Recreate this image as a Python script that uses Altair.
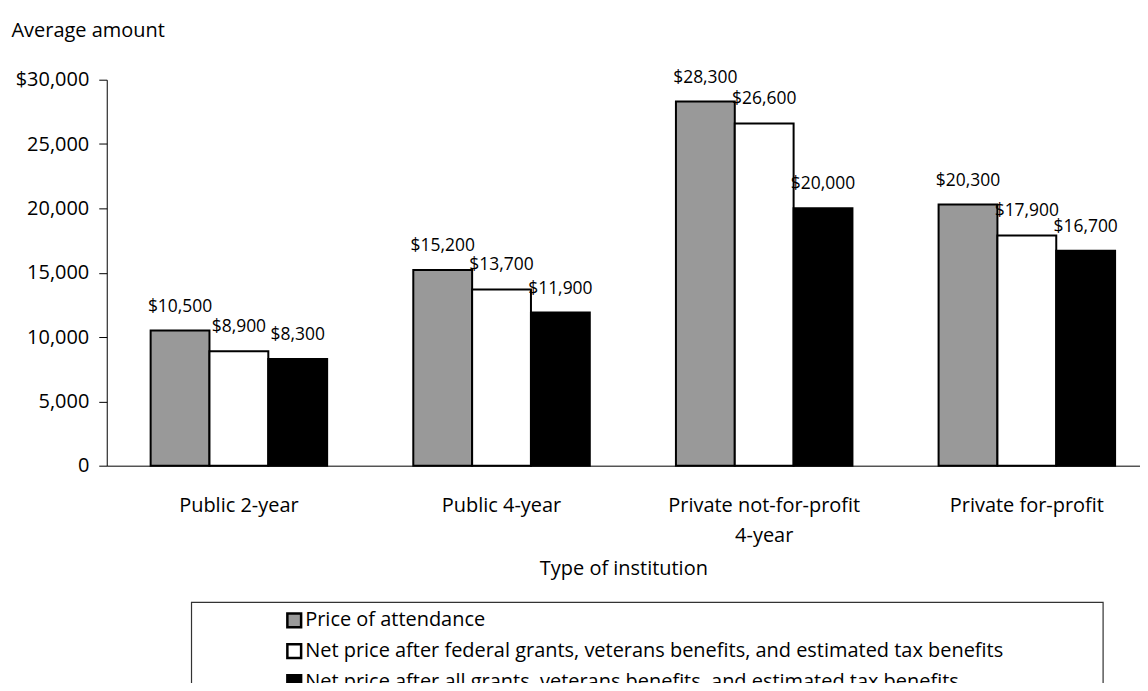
import altair as alt
import pandas as pd

categories = ["Public 2-year", "Public 4-year", "Private not-for-profit 4-year", "Private for-profit"]
series = [
    "Price of attendance",
    "Net price after federal grants, veterans benefits, and estimated tax benefits",
    "Net price after all grants, veterans benefits, and estimated tax benefits",
]
price = [10500, 15200, 28300, 20300]
net_federal = [8900, 13700, 26600, 17900]
net_all = [8300, 11900, 20000, 16700]
colors = ["#999999", "#ffffff", "#000000"]
y_ticks = [0, 5000, 10000, 15000, 20000, 25000, 30000]

rows = []
for i, c in enumerate(categories):
    for s, vals in zip(series, [price, net_federal, net_all]):
        rows.append({"type": c, "series": s, "amount": vals[i]})
df = pd.DataFrame(rows)

FONT = "Open Sans"

x_enc = alt.X(
    "type:N",
    sort=categories,
    scale=alt.Scale(paddingInner=0.328, paddingOuter=0.131, align=0.638),
    axis=alt.Axis(
        title="Type of institution",
        labelAngle=0,
        ticks=False,
        grid=False,
        labelPadding=30,
        labelLineHeight=30,
        labelLimit=400,
        labelExpr="datum.value == 'Private not-for-profit 4-year' ? ['Private not-for-profit', '4-year'] : datum.label",
        titlePadding=13,
        domainColor="black",
        domainWidth=1,
        labelFontSize=20,
        titleFontSize=20,
        titleFontWeight="normal",
        labelColor="black",
        titleColor="black",
        labelFont=FONT,
        titleFont=FONT,
    ),
)
xo_enc = alt.XOffset("series:N", sort=series, scale=alt.Scale(paddingInner=0, paddingOuter=0))
y_enc = alt.Y(
    "amount:Q",
    scale=alt.Scale(domain=[0, 30000]),
    axis=alt.Axis(
        values=y_ticks,
        labelExpr="datum.value == 30000 ? '$30,000' : format(datum.value, ',')",
        title="Average amount",
        titleAngle=0,
        titleAlign="left",
        titleBaseline="middle",
        titleX=-96,
        titleY=-49,
        grid=False,
        tickSize=8,
        tickColor="black",
        domainColor="black",
        labelPadding=10,
        labelFontSize=20,
        titleFontSize=20,
        titleFontWeight="normal",
        labelColor="black",
        titleColor="black",
        labelFont=FONT,
        titleFont=FONT,
    ),
)

bars = alt.Chart(df).mark_bar(stroke="black", strokeWidth=2).encode(
    x=x_enc,
    xOffset=xo_enc,
    y=y_enc,
    fill=alt.Fill(
        "series:N",
        sort=series,
        scale=alt.Scale(domain=series, range=colors),
        legend=alt.Legend(
            title=None,
            orient="none",
            legendX=178,
            legendY=532,
            symbolType="square",
            symbolSize=190,
            symbolStrokeColor="black",
            symbolStrokeWidth=2.5,
            labelFontSize=20,
            labelFont=FONT,
            labelColor="black",
            labelLimit=1000,
            labelOffset=1,
            rowPadding=7,
            padding=0,
        ),
    ),
)

labels = alt.Chart(df).mark_text(
    baseline="bottom", dy=-15, fontSize=17.5, font=FONT, color="black"
).encode(
    x=x_enc,
    xOffset=xo_enc,
    y=y_enc,
    text=alt.Text("amount:Q", format="$,.0f"),
)

frame = alt.Chart(pd.DataFrame({"k": [0]})).mark_rect(
    fill="transparent", stroke="#333333", strokeWidth=1.2
).encode(
    x=alt.value(85), x2=alt.value(999), y=alt.value(524), y2=alt.value(760)
)

chart = (
    alt.layer(bars, labels, frame)
    .properties(
        width=1036,
        height=387,
        padding={"left": 99, "top": 71, "right": 0, "bottom": 217},
        autosize=alt.AutoSizeParams(type="none"),
        view=alt.ViewBackground(stroke="transparent", strokeWidth=0, strokeOpacity=0),
    )
    .configure_view(stroke="transparent", strokeWidth=0, strokeOpacity=0)
    .configure_axis(grid=False)
    .configure(font=FONT)
)

chart.save("out.html", embed_options={"renderer": "svg", "actions": False})
